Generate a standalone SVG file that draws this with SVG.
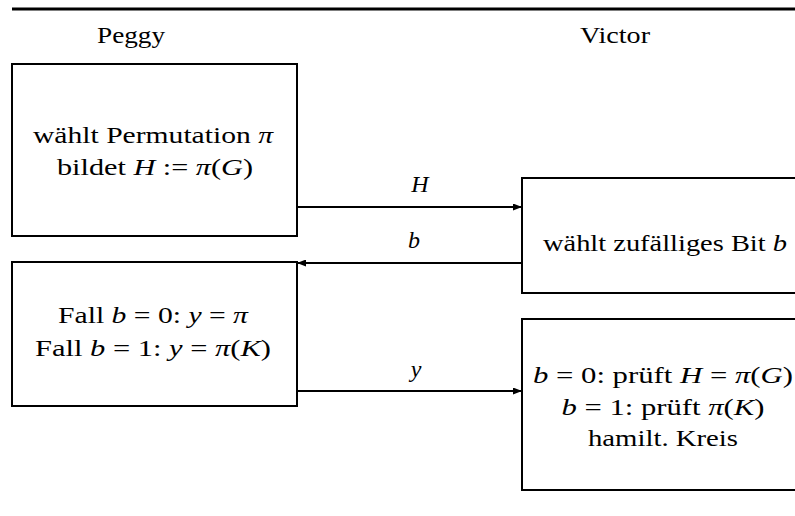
<svg xmlns="http://www.w3.org/2000/svg" width="795" height="516" viewBox="0 0 795 516">
<style>
text{font-family:'Liberation Serif','Times New Roman','DejaVu Serif',serif;font-size:24px;fill:#000;text-anchor:middle}
.m{font-style:italic}
.box{fill:none;stroke:#000;stroke-width:2}
.c{stroke:#000;stroke-width:2;fill:none}
</style>
<defs>
<marker id="ah" markerWidth="9" markerHeight="7" refX="9" refY="3.5" orient="auto" markerUnits="userSpaceOnUse">
<path d="M0,0 L9,3.5 L0,7 z" fill="#000"/>
</marker>
</defs>
<line x1="12" y1="9" x2="795" y2="9" stroke="#000" stroke-width="3"/>
<text x="131" y="43" textLength="68" lengthAdjust="spacingAndGlyphs">Peggy</text>
<text x="615" y="43" textLength="70" lengthAdjust="spacingAndGlyphs">Victor</text>
<g id="p1">
<rect class="box" x="12" y="64" width="285" height="172"/>
<text x="153" y="143" textLength="240" lengthAdjust="spacingAndGlyphs">wählt Permutation <tspan class="m">π</tspan></text>
<text x="155" y="175" textLength="196" lengthAdjust="spacingAndGlyphs">bildet <tspan class="m">H</tspan> := <tspan class="m">π</tspan>(<tspan class="m">G</tspan>)</text>
</g>
<g id="p2">
<rect class="box" x="12" y="262" width="285" height="144"/>
<text x="153" y="323" textLength="190" lengthAdjust="spacingAndGlyphs">Fall <tspan class="m">b</tspan> = 0: <tspan class="m">y</tspan> = <tspan class="m">π</tspan></text>
<text x="153" y="356" textLength="236" lengthAdjust="spacingAndGlyphs">Fall <tspan class="m">b</tspan> = 1: <tspan class="m">y</tspan> = <tspan class="m">π</tspan>(<tspan class="m">K</tspan>)</text>
</g>
<g id="v1">
<path class="box" d="M797,178 H522 V293 H797"/>
<text x="665" y="251" textLength="244" lengthAdjust="spacingAndGlyphs">wählt zufälliges Bit <tspan class="m">b</tspan></text>
</g>
<g id="v2">
<path class="box" d="M797,319 H522 V490 H797"/>
<text x="663" y="383" textLength="260" lengthAdjust="spacingAndGlyphs"><tspan class="m">b</tspan> = 0: prüft <tspan class="m">H</tspan> = <tspan class="m">π</tspan>(<tspan class="m">G</tspan>)</text>
<text x="663" y="415" textLength="203" lengthAdjust="spacingAndGlyphs"><tspan class="m">b</tspan> = 1: prüft <tspan class="m">π</tspan>(<tspan class="m">K</tspan>)</text>
<text x="663" y="446" textLength="150" lengthAdjust="spacingAndGlyphs">hamilt. Kreis</text>
</g>
<g id="connectors">
<line class="c" x1="297" y1="207" x2="522" y2="207" marker-end="url(#ah)"/>
<line class="c" x1="522" y1="263" x2="297" y2="263" marker-end="url(#ah)"/>
<line class="c" x1="297" y1="391" x2="522" y2="391" marker-end="url(#ah)"/>
<text class="m" x="420" y="192">H</text>
<text class="m" x="414" y="248">b</text>
<text class="m" x="416" y="377">y</text>
</g>
</svg>
